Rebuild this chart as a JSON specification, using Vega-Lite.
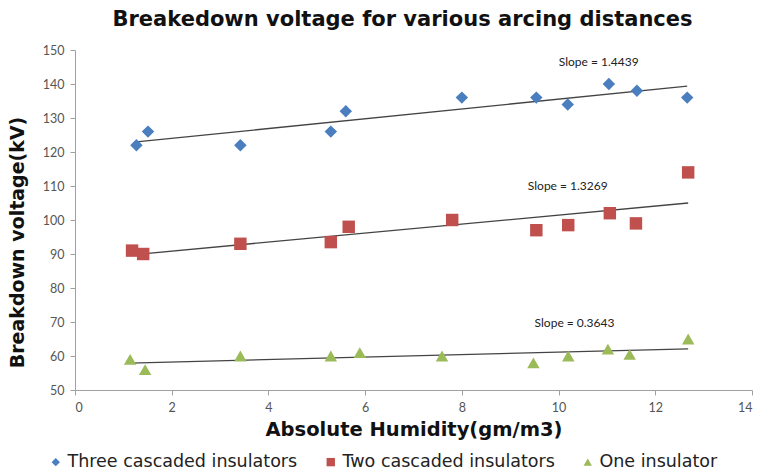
{
  "$schema": "https://vega.github.io/schema/vega-lite/v6.json",
  "autosize": {"type": "none"},
  "width": 677,
  "height": 340,
  "padding": {"left": 75, "top": 50, "right": 8, "bottom": 84},
  "background": "white",
  "title": {
    "text": "Breakedown voltage for various arcing distances",
    "font": "DejaVu Sans",
    "fontSize": 21,
    "fontWeight": "bold",
    "color": "#111",
    "anchor": "middle",
    "offset": 14,
    "dx": -11
  },
  "config": {
    "view": {"stroke": null},
    "axis": {
      "grid": false,
      "domainColor": "#a0a0a0",
      "tickColor": "#a0a0a0",
      "tickSize": 5,
      "labelFont": "Lato",
      "labelFontSize": 12.5,
      "labelColor": "#555",
      "labelOverlap": false,
      "titleFont": "DejaVu Sans",
      "titleFontWeight": "bold",
      "titleColor": "#111"
    }
  },
  "datasets": {
    "points": [
      {"humidity": 1.27, "voltage": 122, "series": "Three cascaded insulators"},
      {"humidity": 1.51, "voltage": 126, "series": "Three cascaded insulators"},
      {"humidity": 3.42, "voltage": 122, "series": "Three cascaded insulators"},
      {"humidity": 5.29, "voltage": 126, "series": "Three cascaded insulators"},
      {"humidity": 5.6, "voltage": 132, "series": "Three cascaded insulators"},
      {"humidity": 8.0, "voltage": 136, "series": "Three cascaded insulators"},
      {"humidity": 9.54, "voltage": 136, "series": "Three cascaded insulators"},
      {"humidity": 10.19, "voltage": 134, "series": "Three cascaded insulators"},
      {"humidity": 11.04, "voltage": 140, "series": "Three cascaded insulators"},
      {"humidity": 11.62, "voltage": 138, "series": "Three cascaded insulators"},
      {"humidity": 12.66, "voltage": 136, "series": "Three cascaded insulators"},
      {"humidity": 1.18, "voltage": 91, "series": "Two cascaded insulators"},
      {"humidity": 1.41, "voltage": 90, "series": "Two cascaded insulators"},
      {"humidity": 3.42, "voltage": 93, "series": "Two cascaded insulators"},
      {"humidity": 5.29, "voltage": 93.5, "series": "Two cascaded insulators"},
      {"humidity": 5.66, "voltage": 98, "series": "Two cascaded insulators"},
      {"humidity": 7.8, "voltage": 100, "series": "Two cascaded insulators"},
      {"humidity": 9.54, "voltage": 97, "series": "Two cascaded insulators"},
      {"humidity": 10.2, "voltage": 98.5, "series": "Two cascaded insulators"},
      {"humidity": 11.06, "voltage": 102, "series": "Two cascaded insulators"},
      {"humidity": 11.6, "voltage": 99, "series": "Two cascaded insulators"},
      {"humidity": 12.68, "voltage": 114, "series": "Two cascaded insulators"},
      {"humidity": 1.14, "voltage": 59, "series": "One insulator"},
      {"humidity": 1.45, "voltage": 56, "series": "One insulator"},
      {"humidity": 3.42, "voltage": 60, "series": "One insulator"},
      {"humidity": 5.29, "voltage": 60, "series": "One insulator"},
      {"humidity": 5.89, "voltage": 61, "series": "One insulator"},
      {"humidity": 7.59, "voltage": 60, "series": "One insulator"},
      {"humidity": 9.48, "voltage": 58, "series": "One insulator"},
      {"humidity": 10.2, "voltage": 60, "series": "One insulator"},
      {"humidity": 11.02, "voltage": 62, "series": "One insulator"},
      {"humidity": 11.47, "voltage": 60.5, "series": "One insulator"},
      {"humidity": 12.68, "voltage": 65, "series": "One insulator"}
    ],
    "slopes": [
      {"humidity": 10.83, "voltage": 146.5, "label": "Slope = 1.4439"},
      {"humidity": 10.19, "voltage": 110, "label": "Slope = 1.3269"},
      {"humidity": 10.33, "voltage": 69.7, "label": "Slope = 0.3643"}
    ]
  },
  "encoding": {
    "x": {
      "field": "humidity",
      "type": "quantitative",
      "scale": {"domain": [0, 14], "nice": false},
      "axis": {"values": [0, 2, 4, 6, 8, 10, 12, 14], "title": "Absolute Humidity(gm/m3)", "titleFontSize": 19.5, "labelPadding": 6, "titlePadding": 7}
    },
    "y": {
      "field": "voltage",
      "type": "quantitative",
      "scale": {"domain": [50, 150], "nice": false, "zero": false},
      "axis": {"values": [50, 60, 70, 80, 90, 100, 110, 120, 130, 140, 150], "title": "Breakdown voltage(kV)", "titleFontSize": 19, "titleY": 192, "labelPadding": 6, "titlePadding": 15}
    }
  },
  "layer": [
    {
      "data": {"name": "points"},
      "transform": [
        {"regression": "voltage", "on": "humidity", "groupby": ["series"], "method": "linear"}
      ],
      "mark": {"type": "line", "color": "#444", "strokeWidth": 1.3},
      "encoding": {
        "detail": {"field": "series"}
      }
    },
    {
      "data": {"name": "points"},
      "mark": {"type": "point", "filled": true, "opacity": 1, "size": 155},
      "encoding": {
        "color": {
          "field": "series",
          "type": "nominal",
          "scale": {
            "domain": ["Three cascaded insulators", "Two cascaded insulators", "One insulator"],
            "range": ["#4a7ebf", "#c0504d", "#9bbb59"]
          },
          "legend": {
            "title": null,
            "orient": "none",
            "legendX": -28,
            "legendY": 403,
            "direction": "horizontal",
            "labelFont": "DejaVu Sans",
            "labelFontSize": 17.5,
            "labelColor": "#222",
            "symbolSize": 70,
            "labelOffset": 3,
            "columnPadding": 24,
            "labelLimit": 300
          }
        },
        "shape": {
          "field": "series",
          "type": "nominal",
          "scale": {
            "domain": ["Three cascaded insulators", "Two cascaded insulators", "One insulator"],
            "range": ["diamond", "square", "triangle-up"]
          },
          "legend": null
        }
      }
    },
    {
      "data": {"name": "slopes"},
      "mark": {"type": "text", "font": "Lato", "fontSize": 12, "color": "#222"},
      "encoding": {
        "text": {"field": "label"}
      }
    }
  ]
}
